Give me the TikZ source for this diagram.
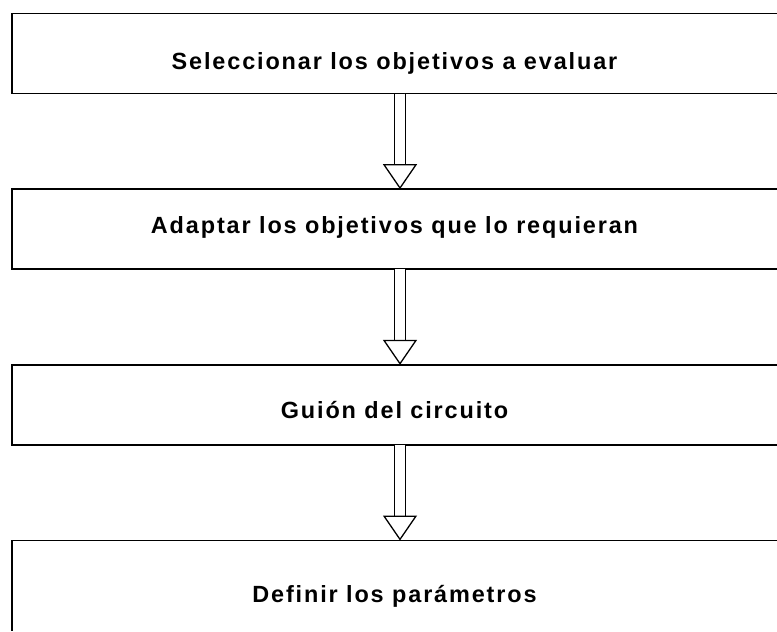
\documentclass[tikz,border=0pt]{standalone}
\usepackage{fontspec}
\setmainfont{Liberation Sans}[LetterSpace=8]
\usetikzlibrary{arrows.meta, positioning}

\begin{document}
\begin{tikzpicture}[
  x=0.03cm, y=-0.03cm,
  font=\fontsize{20}{24}\selectfont\bfseries,
  stepbox/.style={rectangle, inner sep=0pt, outer sep=0pt, minimum width=22.95cm,
                  minimum height=2.4cm, text height=0.8cm, text depth=0pt},
  boxline/.style={line width=1.2pt, line cap=rect},
  flowarrow/.style={line width=1.1pt, double, double distance=0.3cm,
                    -{Triangle[open, length=0.75cm, width=1.02cm]}}
]
\useasboundingbox (0,0) rectangle (777,631);

% steps
\node[stepbox, text height=0.93cm] (sel) at (394.5,53.5) {Seleccionar los objetivos a evaluar};
\node[stepbox, text height=0.26cm, below=2.87cm of sel] (ada) {Adaptar los objetivos que lo requieran};
\node[stepbox, below=2.87cm of ada] (gui) {Guión del circuito};
\node[stepbox, text height=1.02cm, minimum height=2.7cm, below=2.87cm of gui] (def) {Definir los parámetros};

% box outlines (open on the right)
\foreach \b in {sel,ada,gui}
  \draw[boxline] (\b.north east) -- (\b.north west) -- (\b.south west) -- (\b.south east);
\draw[boxline] (def.north east) -- (def.north west) -- (def.south west);

% double arrows
\foreach \a/\b in {sel/ada, ada/gui, gui/def}
  \draw[flowarrow] ([xshift=0.165cm]\a.south) -- ([xshift=0.165cm]\b.north);

\end{tikzpicture}
\end{document}
